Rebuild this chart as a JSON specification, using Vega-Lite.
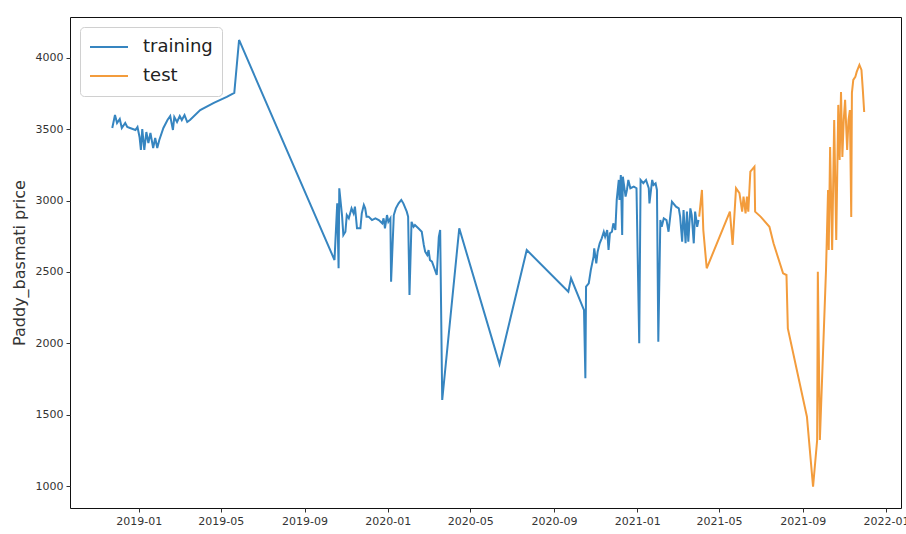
{
  "$schema": "https://vega.github.io/schema/vega-lite/v6.json",
  "width": 831,
  "height": 491,
  "autosize": "none",
  "padding": {"left": 70, "top": 17, "right": 5, "bottom": 26},
  "background": "white",
  "config": {
    "font": "DejaVu Sans",
    "view": {"stroke": "#111", "strokeWidth": 1},
    "axis": {
      "grid": false,
      "domain": false,
      "tickColor": "#333",
      "tickSize": 4,
      "labelFontSize": 11,
      "labelColor": "#333",
      "labelPadding": 3,
      "titleFont": "DejaVu Sans",
      "titleFontSize": 16,
      "titleFontWeight": "normal",
      "titleColor": "#333"
    }
  },
  "data": {
    "values": [
      {"date": "2018-11-23", "price": 3509, "set": "training"},
      {"date": "2018-11-27", "price": 3600, "set": "training"},
      {"date": "2018-11-30", "price": 3544, "set": "training"},
      {"date": "2018-12-04", "price": 3572, "set": "training"},
      {"date": "2018-12-07", "price": 3509, "set": "training"},
      {"date": "2018-12-12", "price": 3544, "set": "training"},
      {"date": "2018-12-15", "price": 3516, "set": "training"},
      {"date": "2018-12-19", "price": 3509, "set": "training"},
      {"date": "2018-12-27", "price": 3495, "set": "training"},
      {"date": "2018-12-30", "price": 3516, "set": "training"},
      {"date": "2019-01-02", "price": 3446, "set": "training"},
      {"date": "2019-01-04", "price": 3355, "set": "training"},
      {"date": "2019-01-06", "price": 3502, "set": "training"},
      {"date": "2019-01-09", "price": 3355, "set": "training"},
      {"date": "2019-01-12", "price": 3481, "set": "training"},
      {"date": "2019-01-15", "price": 3404, "set": "training"},
      {"date": "2019-01-18", "price": 3474, "set": "training"},
      {"date": "2019-01-22", "price": 3369, "set": "training"},
      {"date": "2019-01-25", "price": 3439, "set": "training"},
      {"date": "2019-01-28", "price": 3369, "set": "training"},
      {"date": "2019-01-31", "price": 3425, "set": "training"},
      {"date": "2019-02-06", "price": 3509, "set": "training"},
      {"date": "2019-02-12", "price": 3565, "set": "training"},
      {"date": "2019-02-16", "price": 3593, "set": "training"},
      {"date": "2019-02-20", "price": 3495, "set": "training"},
      {"date": "2019-02-22", "price": 3586, "set": "training"},
      {"date": "2019-02-26", "price": 3551, "set": "training"},
      {"date": "2019-03-02", "price": 3593, "set": "training"},
      {"date": "2019-03-05", "price": 3565, "set": "training"},
      {"date": "2019-03-09", "price": 3600, "set": "training"},
      {"date": "2019-03-13", "price": 3551, "set": "training"},
      {"date": "2019-03-17", "price": 3565, "set": "training"},
      {"date": "2019-04-01", "price": 3635, "set": "training"},
      {"date": "2019-04-21", "price": 3685, "set": "training"},
      {"date": "2019-05-10", "price": 3727, "set": "training"},
      {"date": "2019-05-21", "price": 3755, "set": "training"},
      {"date": "2019-05-28", "price": 4126, "set": "training"},
      {"date": "2019-10-15", "price": 2584, "set": "training"},
      {"date": "2019-10-19", "price": 2981, "set": "training"},
      {"date": "2019-10-21", "price": 2526, "set": "training"},
      {"date": "2019-10-22", "price": 3087, "set": "training"},
      {"date": "2019-10-26", "price": 2899, "set": "training"},
      {"date": "2019-10-28", "price": 2759, "set": "training"},
      {"date": "2019-10-31", "price": 2782, "set": "training"},
      {"date": "2019-11-02", "price": 2899, "set": "training"},
      {"date": "2019-11-05", "price": 2876, "set": "training"},
      {"date": "2019-11-09", "price": 2946, "set": "training"},
      {"date": "2019-11-12", "price": 2911, "set": "training"},
      {"date": "2019-11-14", "price": 2958, "set": "training"},
      {"date": "2019-11-17", "price": 2806, "set": "training"},
      {"date": "2019-11-22", "price": 2806, "set": "training"},
      {"date": "2019-11-24", "price": 2911, "set": "training"},
      {"date": "2019-11-27", "price": 2970, "set": "training"},
      {"date": "2019-11-29", "price": 2946, "set": "training"},
      {"date": "2019-12-01", "price": 2888, "set": "training"},
      {"date": "2019-12-04", "price": 2888, "set": "training"},
      {"date": "2019-12-09", "price": 2864, "set": "training"},
      {"date": "2019-12-14", "price": 2876, "set": "training"},
      {"date": "2019-12-19", "price": 2864, "set": "training"},
      {"date": "2019-12-24", "price": 2841, "set": "training"},
      {"date": "2019-12-26", "price": 2876, "set": "training"},
      {"date": "2019-12-28", "price": 2806, "set": "training"},
      {"date": "2019-12-31", "price": 2899, "set": "training"},
      {"date": "2020-01-02", "price": 2852, "set": "training"},
      {"date": "2020-01-05", "price": 2876, "set": "training"},
      {"date": "2020-01-06", "price": 2432, "set": "training"},
      {"date": "2020-01-10", "price": 2899, "set": "training"},
      {"date": "2020-01-13", "price": 2946, "set": "training"},
      {"date": "2020-01-17", "price": 2981, "set": "training"},
      {"date": "2020-01-21", "price": 3005, "set": "training"},
      {"date": "2020-01-24", "price": 2981, "set": "training"},
      {"date": "2020-01-29", "price": 2923, "set": "training"},
      {"date": "2020-01-31", "price": 2888, "set": "training"},
      {"date": "2020-02-02", "price": 2339, "set": "training"},
      {"date": "2020-02-05", "price": 2852, "set": "training"},
      {"date": "2020-02-08", "price": 2817, "set": "training"},
      {"date": "2020-02-10", "price": 2829, "set": "training"},
      {"date": "2020-02-15", "price": 2806, "set": "training"},
      {"date": "2020-02-20", "price": 2782, "set": "training"},
      {"date": "2020-02-23", "price": 2689, "set": "training"},
      {"date": "2020-02-25", "price": 2642, "set": "training"},
      {"date": "2020-02-28", "price": 2619, "set": "training"},
      {"date": "2020-03-01", "price": 2654, "set": "training"},
      {"date": "2020-03-03", "price": 2584, "set": "training"},
      {"date": "2020-03-06", "price": 2572, "set": "training"},
      {"date": "2020-03-13", "price": 2479, "set": "training"},
      {"date": "2020-03-16", "price": 2745, "set": "training"},
      {"date": "2020-03-18", "price": 2794, "set": "training"},
      {"date": "2020-03-21", "price": 1603, "set": "training"},
      {"date": "2020-04-15", "price": 2806, "set": "training"},
      {"date": "2020-06-13", "price": 1855, "set": "training"},
      {"date": "2020-07-23", "price": 2654, "set": "training"},
      {"date": "2020-09-22", "price": 2362, "set": "training"},
      {"date": "2020-09-26", "price": 2456, "set": "training"},
      {"date": "2020-10-15", "price": 2233, "set": "training"},
      {"date": "2020-10-17", "price": 1755, "set": "training"},
      {"date": "2020-10-18", "price": 2397, "set": "training"},
      {"date": "2020-10-22", "price": 2421, "set": "training"},
      {"date": "2020-10-25", "price": 2514, "set": "training"},
      {"date": "2020-10-29", "price": 2607, "set": "training"},
      {"date": "2020-10-30", "price": 2666, "set": "training"},
      {"date": "2020-11-02", "price": 2561, "set": "training"},
      {"date": "2020-11-04", "price": 2642, "set": "training"},
      {"date": "2020-11-07", "price": 2701, "set": "training"},
      {"date": "2020-11-10", "price": 2736, "set": "training"},
      {"date": "2020-11-13", "price": 2782, "set": "training"},
      {"date": "2020-11-15", "price": 2747, "set": "training"},
      {"date": "2020-11-18", "price": 2794, "set": "training"},
      {"date": "2020-11-20", "price": 2654, "set": "training"},
      {"date": "2020-11-22", "price": 2771, "set": "training"},
      {"date": "2020-11-25", "price": 2782, "set": "training"},
      {"date": "2020-11-27", "price": 2841, "set": "training"},
      {"date": "2020-11-30", "price": 2794, "set": "training"},
      {"date": "2020-12-02", "price": 3005, "set": "training"},
      {"date": "2020-12-05", "price": 3145, "set": "training"},
      {"date": "2020-12-06", "price": 3005, "set": "training"},
      {"date": "2020-12-08", "price": 3180, "set": "training"},
      {"date": "2020-12-10", "price": 2759, "set": "training"},
      {"date": "2020-12-11", "price": 3168, "set": "training"},
      {"date": "2020-12-15", "price": 3028, "set": "training"},
      {"date": "2020-12-17", "price": 3075, "set": "training"},
      {"date": "2020-12-19", "price": 3145, "set": "training"},
      {"date": "2020-12-22", "price": 3087, "set": "training"},
      {"date": "2020-12-27", "price": 3098, "set": "training"},
      {"date": "2020-12-31", "price": 3087, "set": "training"},
      {"date": "2021-01-04", "price": 2000, "set": "training"},
      {"date": "2021-01-06", "price": 3145, "set": "training"},
      {"date": "2021-01-10", "price": 3122, "set": "training"},
      {"date": "2021-01-14", "price": 3145, "set": "training"},
      {"date": "2021-01-18", "price": 3087, "set": "training"},
      {"date": "2021-01-19", "price": 2981, "set": "training"},
      {"date": "2021-01-23", "price": 3145, "set": "training"},
      {"date": "2021-01-25", "price": 3110, "set": "training"},
      {"date": "2021-01-28", "price": 3122, "set": "training"},
      {"date": "2021-01-30", "price": 3075, "set": "training"},
      {"date": "2021-02-01", "price": 2011, "set": "training"},
      {"date": "2021-02-04", "price": 2864, "set": "training"},
      {"date": "2021-02-06", "price": 2817, "set": "training"},
      {"date": "2021-02-09", "price": 2876, "set": "training"},
      {"date": "2021-02-13", "price": 2864, "set": "training"},
      {"date": "2021-02-16", "price": 2782, "set": "training"},
      {"date": "2021-02-19", "price": 2911, "set": "training"},
      {"date": "2021-02-21", "price": 2993, "set": "training"},
      {"date": "2021-02-23", "price": 2981, "set": "training"},
      {"date": "2021-02-27", "price": 2958, "set": "training"},
      {"date": "2021-03-03", "price": 2946, "set": "training"},
      {"date": "2021-03-05", "price": 2888, "set": "training"},
      {"date": "2021-03-08", "price": 2712, "set": "training"},
      {"date": "2021-03-10", "price": 2934, "set": "training"},
      {"date": "2021-03-13", "price": 2701, "set": "training"},
      {"date": "2021-03-15", "price": 2923, "set": "training"},
      {"date": "2021-03-17", "price": 2712, "set": "training"},
      {"date": "2021-03-20", "price": 2946, "set": "training"},
      {"date": "2021-03-22", "price": 2899, "set": "training"},
      {"date": "2021-03-25", "price": 2701, "set": "training"},
      {"date": "2021-03-27", "price": 2923, "set": "training"},
      {"date": "2021-03-30", "price": 2817, "set": "training"},
      {"date": "2021-04-01", "price": 2864, "set": "training"},
      {"date": "2021-04-02", "price": 2888, "set": "test"},
      {"date": "2021-04-06", "price": 3075, "set": "test"},
      {"date": "2021-04-08", "price": 2794, "set": "test"},
      {"date": "2021-04-13", "price": 2526, "set": "test"},
      {"date": "2021-05-17", "price": 2923, "set": "test"},
      {"date": "2021-05-21", "price": 2689, "set": "test"},
      {"date": "2021-05-26", "price": 3087, "set": "test"},
      {"date": "2021-05-31", "price": 3052, "set": "test"},
      {"date": "2021-06-04", "price": 2923, "set": "test"},
      {"date": "2021-06-06", "price": 3028, "set": "test"},
      {"date": "2021-06-09", "price": 2911, "set": "test"},
      {"date": "2021-06-11", "price": 3028, "set": "test"},
      {"date": "2021-06-13", "price": 2923, "set": "test"},
      {"date": "2021-06-16", "price": 3203, "set": "test"},
      {"date": "2021-06-22", "price": 3238, "set": "test"},
      {"date": "2021-06-23", "price": 2923, "set": "test"},
      {"date": "2021-07-01", "price": 2888, "set": "test"},
      {"date": "2021-07-14", "price": 2817, "set": "test"},
      {"date": "2021-07-20", "price": 2701, "set": "test"},
      {"date": "2021-08-03", "price": 2491, "set": "test"},
      {"date": "2021-08-08", "price": 2479, "set": "test"},
      {"date": "2021-08-10", "price": 2105, "set": "test"},
      {"date": "2021-09-07", "price": 1486, "set": "test"},
      {"date": "2021-09-16", "price": 995, "set": "test"},
      {"date": "2021-09-22", "price": 1322, "set": "test"},
      {"date": "2021-09-23", "price": 2502, "set": "test"},
      {"date": "2021-09-26", "price": 1322, "set": "test"},
      {"date": "2021-10-05", "price": 2514, "set": "test"},
      {"date": "2021-10-08", "price": 3075, "set": "test"},
      {"date": "2021-10-09", "price": 2654, "set": "test"},
      {"date": "2021-10-11", "price": 3376, "set": "test"},
      {"date": "2021-10-14", "price": 2654, "set": "test"},
      {"date": "2021-10-17", "price": 3565, "set": "test"},
      {"date": "2021-10-20", "price": 2724, "set": "test"},
      {"date": "2021-10-23", "price": 3671, "set": "test"},
      {"date": "2021-10-25", "price": 3285, "set": "test"},
      {"date": "2021-10-27", "price": 3762, "set": "test"},
      {"date": "2021-10-29", "price": 3306, "set": "test"},
      {"date": "2021-10-31", "price": 3565, "set": "test"},
      {"date": "2021-11-02", "price": 3706, "set": "test"},
      {"date": "2021-11-05", "price": 3355, "set": "test"},
      {"date": "2021-11-07", "price": 3565, "set": "test"},
      {"date": "2021-11-09", "price": 3635, "set": "test"},
      {"date": "2021-11-11", "price": 2885, "set": "test"},
      {"date": "2021-11-12", "price": 3755, "set": "test"},
      {"date": "2021-11-14", "price": 3846, "set": "test"},
      {"date": "2021-11-17", "price": 3867, "set": "test"},
      {"date": "2021-11-19", "price": 3902, "set": "test"},
      {"date": "2021-11-23", "price": 3951, "set": "test"},
      {"date": "2021-11-26", "price": 3916, "set": "test"},
      {"date": "2021-11-28", "price": 3776, "set": "test"},
      {"date": "2021-11-30", "price": 3621, "set": "test"}
    ]
  },
  "mark": {"type": "line", "strokeWidth": 2},
  "encoding": {
    "x": {
      "field": "date",
      "type": "temporal",
      "scale": {
        "type": "utc",
        "domain": [
          {"year": 2018, "month": 9, "date": 22, "utc": true},
          {"year": 2022, "month": 1, "date": 23, "utc": true}
        ]
      },
      "axis": {
        "title": null,
        "format": "%Y-%m",
        "values": [
          {"year": 2019, "month": 1, "date": 1, "utc": true},
          {"year": 2019, "month": 5, "date": 1, "utc": true},
          {"year": 2019, "month": 9, "date": 1, "utc": true},
          {"year": 2020, "month": 1, "date": 1, "utc": true},
          {"year": 2020, "month": 5, "date": 1, "utc": true},
          {"year": 2020, "month": 9, "date": 1, "utc": true},
          {"year": 2021, "month": 1, "date": 1, "utc": true},
          {"year": 2021, "month": 5, "date": 1, "utc": true},
          {"year": 2021, "month": 9, "date": 1, "utc": true},
          {"year": 2022, "month": 1, "date": 1, "utc": true}
        ],
        "labelAlign": "center",
        "labelFlush": false,
        "labelOverlap": false
      }
    },
    "y": {
      "field": "price",
      "type": "quantitative",
      "scale": {"domain": [846, 4287], "nice": false, "zero": false},
      "axis": {
        "title": "Paddy_basmati price",
        "format": "d",
        "values": [1000, 1500, 2000, 2500, 3000, 3500, 4000],
        "titlePadding": 8
      }
    },
    "color": {
      "field": "set",
      "type": "nominal",
      "scale": {"domain": ["training", "test"], "range": ["#3685c0", "#f39c3c"]},
      "legend": {
        "title": null,
        "orient": "top-left",
        "offset": 10,
        "symbolType": "stroke",
        "symbolSize": 1444,
        "symbolStrokeWidth": 2,
        "labelFontSize": 18,
        "labelColor": "#222",
        "labelOffset": 14,
        "padding": 9,
        "clipHeight": 22,
        "rowPadding": 7,
        "strokeColor": "#d0d0d0",
        "fillColor": "rgba(255,255,255,0.85)",
        "cornerRadius": 4
      }
    }
  }
}
